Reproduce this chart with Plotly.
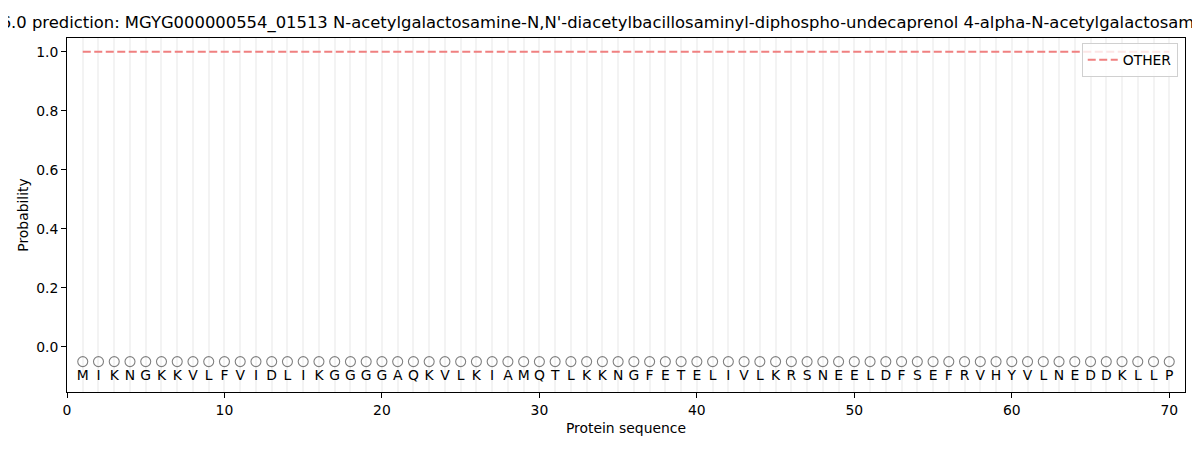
import plotly.graph_objects as go

sequence = list("MIKNGKKVLFVIDLIKGGGGAQKVLKIAMQTLKKNGFETELIVLKRSNEELDFSEFRVHYVLNEDDKLLP")
positions = list(range(1, len(sequence) + 1))
other_prob = [1.0] * len(sequence)
marker_y = [-0.05] * len(sequence)
letter_y = [-0.1] * len(sequence)
title_text = ("SignalP 6.0 prediction: MGYG000000554_01513 N-acetylgalactosamine-N,N'-"
              "diacetylbacillosaminyl-diphospho-undecaprenol 4-alpha-N-acetylgalactosaminyltransferase")
x_ticks = [0, 10, 20, 30, 40, 50, 60, 70]
y_ticks = [0.0, 0.2, 0.4, 0.6, 0.8, 1.0]

FONT = "DejaVu Sans"

fig = go.Figure()
fig.add_trace(go.Scatter(
    x=positions, y=other_prob, mode="lines", name="OTHER",
    line=dict(color="#F08080", width=2, dash="8px,3.5px"),
))
fig.add_trace(go.Scatter(
    x=positions, y=marker_y, mode="markers", showlegend=False,
    marker=dict(symbol="circle-open", size=10, color="#808080", line=dict(width=1.1)),
    hoverinfo="skip",
))
fig.add_trace(go.Scatter(
    x=positions, y=letter_y, mode="text", text=sequence, showlegend=False,
    textfont=dict(family=FONT, size=13.9, color="black"),
    textposition="middle center", hoverinfo="skip",
))

fig.update_layout(
    width=1200, height=450,
    paper_bgcolor="white", plot_bgcolor="white",
    margin=dict(l=59, r=23, t=30, b=66, autoexpand=False),
    font=dict(family=FONT, size=13.9, color="black"),
    title=dict(text=title_text, x=0.5, xref="paper", xanchor="center",
               y=1, yref="paper", yanchor="bottom", pad=dict(b=10),
               font=dict(family=FONT, size=16.4, color="black"), automargin=False),
    showlegend=True,
    legend=dict(x=0.9935, y=0.985, xanchor="right", yanchor="top",
                bordercolor="#d0d0d0", borderwidth=1, bgcolor="rgba(255,255,255,0.8)",
                font=dict(family=FONT, size=13.9, color="black"),
                itemwidth=30),
)
fig.update_xaxes(
    range=[0, 71], tickvals=x_ticks, ticks="outside", ticklen=5, tickwidth=1,
    tickcolor="black", showline=True, linecolor="black", linewidth=1, mirror=True,
    showgrid=True, gridcolor="#f3f3f3", gridwidth=1.6,
    minor=dict(dtick=1, tick0=0, showgrid=True, gridcolor="#f3f3f3", gridwidth=1.6),
    zeroline=False, automargin=False,
    title=dict(text="Protein sequence", font=dict(family=FONT, size=13.9), standoff=6),
)
fig.update_yaxes(
    range=[-0.153, 1.047], tickvals=y_ticks, tickformat=".1f", ticks="outside",
    ticklen=5, tickwidth=1, tickcolor="black", showline=True, linecolor="black",
    linewidth=1, mirror=True, showgrid=False, zeroline=False, automargin=False,
    title=dict(text="Probability", font=dict(family=FONT, size=13.9), standoff=4),
)

fig.write_html("out.html")
